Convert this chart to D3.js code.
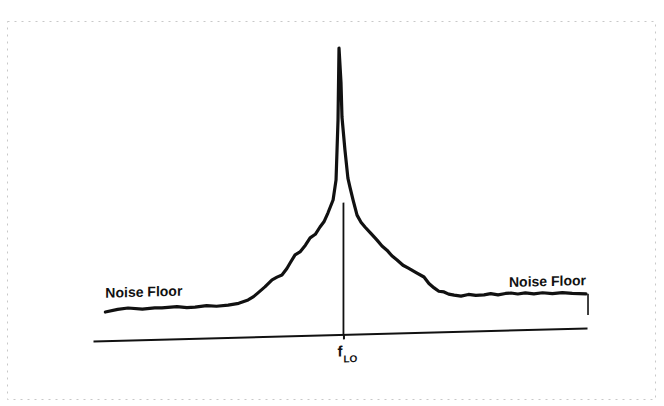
<!DOCTYPE html>
<html>
<head>
<meta charset="utf-8">
<script src="https://cdn.jsdelivr.net/npm/d3@7"></script>
<style>
  body { margin: 0; background: #fff; }
  .label { font-family: "Liberation Sans", Arial, sans-serif; font-weight: bold; fill: #111; }
</style>
</head>
<body>
<div id="chart"></div>
<script>
// offset from f_LO (arbitrary units) and level above the baseline (arbitrary units)
const offsets = [-95, -90, -85.8, -80, -75, -72.1, -66, -62, -58.7, -54, -50, -45.3, -41, -37.2, -35, -33.2,
  -30.4, -27.5, -25.5, -23.5, -21.5, -20.2, -18.2, -16.2, -14, -12.1, -10, -8.1, -6.5, -4.9, -2.8, -1.6,
  -1.2, -0.8, -0.4, 0.4, 0.8, 2, 3.2, 4, 5.3, 6.9, 8.5, 10.1, 12.5, 15, 17, 19, 21, 23.1, 25.5, 27.5,
  31, 34, 36, 38.1, 40, 42.1, 44, 46.2, 49, 52, 55, 58.3, 61, 64, 67, 69.2, 72, 75, 78.5, 82, 86, 90, 94, 99.6]
const levels = [10, 10.8, 11.2, 10.7, 11, 10.9, 11.2, 10.8, 10.9, 11.3, 11, 11.3, 11.8, 12.9, 14, 15.3,
  17.3, 19.7, 20.6, 21.3, 23.5, 25.4, 28.2, 29.2, 31.5, 34, 35.2, 37.7, 39.5, 42.5, 47, 54,
  64.4, 75, 100, 88, 75.9, 64.4, 54.5, 51.4, 46.8, 41.5, 39, 37.3, 35, 32.6, 30.5, 29, 27, 25.5, 23.6, 22.6,
  20.8, 19.3, 17, 15.4, 14.2, 13.9, 13.1, 12.7, 12.3, 12.8, 12.4, 12.5, 12.9, 12.4, 12.8, 12.9, 12.5, 12.8, 12.4, 12.7, 12.3, 12.6, 12.2, 11.9]

const floorLabel = "Noise Floor"
const loOffset = 1.4   // position of f_LO marker
const labelLevel = 15  // text baseline level of the "Noise Floor" labels

const data = offsets.map((o, i) => ({ off: o, lev: levels[i] }))

const width = 664
const height = 406

const svg = d3.select("#chart").append("svg").attr("width", width).attr("height", height)
svg.append("rect").attr("width", width).attr("height", height).attr("fill", "#fff")

// faint frame of the scanned page
svg.append("rect").attr("x", 7.5).attr("y", 21.5).attr("width", 648).attr("height", 378)
  .attr("fill", "none").attr("stroke", "#c8c8c8").attr("stroke-width", 1).attr("stroke-dasharray", "2,5")

// the scan is slightly skewed: right side sits higher
const plot = svg.append("g").attr("transform", "translate(340,335) skewY(-1.51) translate(-340,-335)")

//escalas
const x = d3.scaleLinear().domain([-100, 100]).range([93, 587])
const y = d3.scaleLinear().domain([0, 100]).range([334.5, 48])

//eje (baseline)
const xAxis = d3.axisBottom(x).tickValues([loOffset]).tickFormat("").tickSize(5).tickSizeOuter(0)
const axisGroup = plot.append("g").attr("transform", `translate(0, ${y(0)})`).call(xAxis)
axisGroup.select(".domain").attr("stroke", "#111").attr("stroke-width", 2)
axisGroup.selectAll(".tick line").attr("stroke", "#111").attr("stroke-width", 2)

// centre marker at f_LO
plot.append("line")
  .attr("x1", x(loOffset)).attr("x2", x(loOffset))
  .attr("y1", y(46)).attr("y2", y(0))
  .attr("stroke", "#111").attr("stroke-width", 1.8)

// spectrum
const line = d3.line().x(d => x(d.off)).y(d => y(d.lev))
plot.append("path").datum(data)
  .attr("d", line)
  .attr("fill", "none").attr("stroke", "#111").attr("stroke-width", 3.2)
  .attr("stroke-linejoin", "round").attr("stroke-linecap", "round")

// short right edge drop
const last = data[data.length - 1]
plot.append("line")
  .attr("x1", x(last.off) + 2).attr("x2", x(last.off) + 2)
  .attr("y1", y(last.lev)).attr("y2", y(4.5))
  .attr("stroke", "#111").attr("stroke-width", 1.6)

//textos
plot.append("text").attr("class", "label")
  .attr("x", x(offsets[0])).attr("y", y(labelLevel))
  .attr("font-size", 14).text(floorLabel)

plot.append("text").attr("class", "label")
  .attr("x", x(last.off)).attr("y", y(labelLevel)).attr("text-anchor", "end")
  .attr("font-size", 14).text(floorLabel)

const fLabel = plot.append("text").attr("class", "label")
  .attr("x", x(loOffset) - 6).attr("y", y(0) + 22)
fLabel.append("tspan").attr("font-size", 15).text("f")
fLabel.append("tspan").attr("font-size", 10).attr("dy", 6).attr("dx", 1).text("LO")
</script>
</body>
</html>
